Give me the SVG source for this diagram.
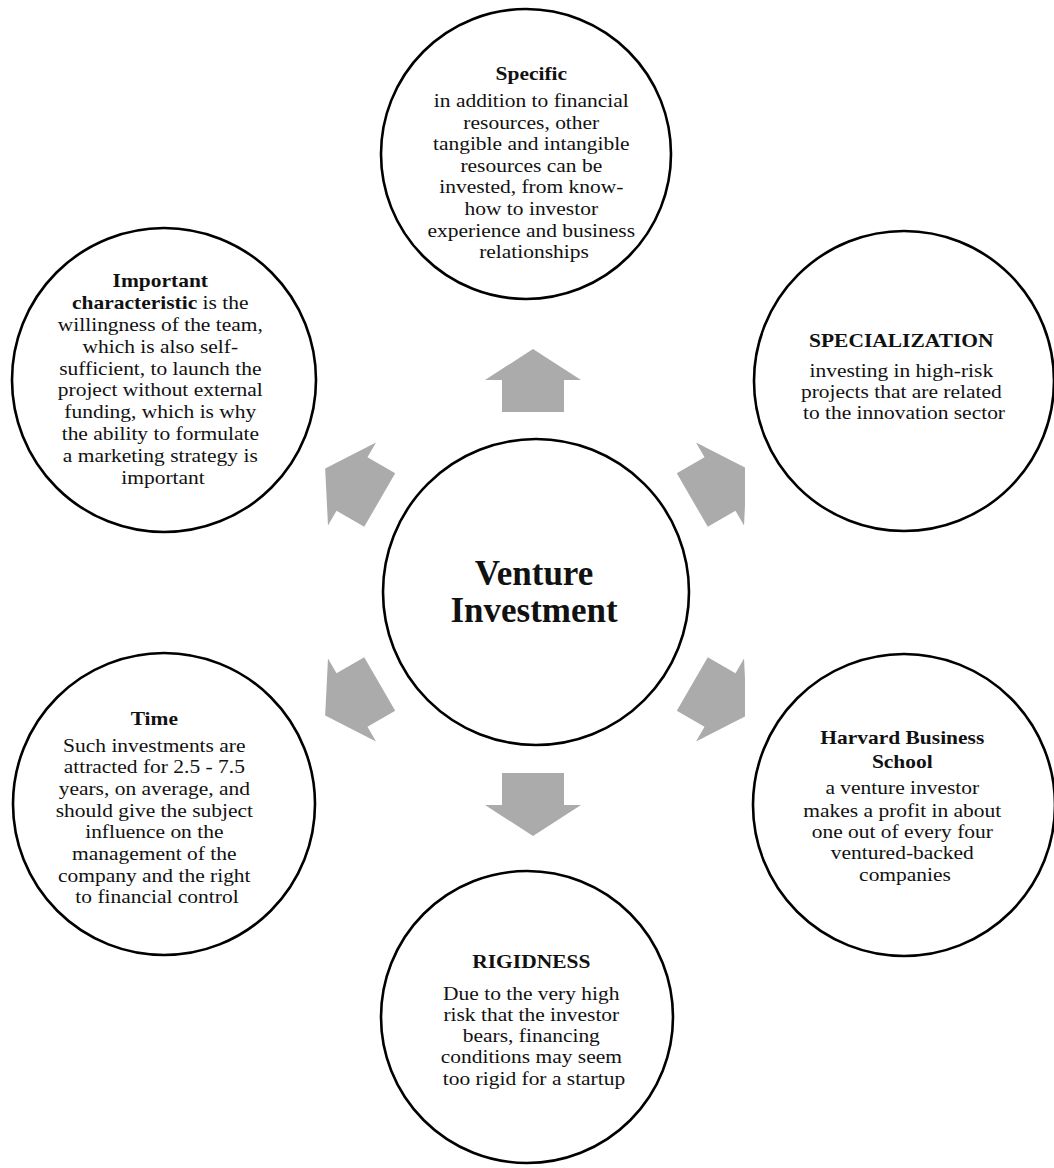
<svg xmlns="http://www.w3.org/2000/svg" width="1054" height="1168" viewBox="0 0 1054 1168">
<style>
.c{fill:#fff;stroke:#000;stroke-width:2.6}
.t{font-family:"Liberation Serif","Times New Roman",serif;font-size:19px;fill:#111;text-anchor:middle}
.b{font-weight:bold}
.big{font-family:"Liberation Serif","Times New Roman",serif;font-size:35px;font-weight:bold;fill:#111;text-anchor:middle}
.ar{fill:#ababab}
</style>
<defs>
<path id="arr" d="M0,-31 L48,0 L31,0 L31,32 L-31,32 L-31,0 L-48,0 Z"/>
<clipPath id="clipL"><rect x="324" y="0" width="800" height="1168"/></clipPath>
<clipPath id="clipR"><rect x="0" y="0" width="745" height="1168"/></clipPath>
</defs>
<rect width="1054" height="1168" fill="#fff"/>
<g id="connectors">
<use href="#arr" class="ar" transform="translate(533,380)"/>
<use href="#arr" class="ar" transform="translate(533,805) rotate(180)"/>
<g clip-path="url(#clipR)">
<use href="#arr" class="ar" transform="translate(720,484) rotate(60)"/>
<use href="#arr" class="ar" transform="translate(720,700) rotate(120)"/>
</g>
<g clip-path="url(#clipL)">
<use href="#arr" class="ar" transform="translate(352,484) rotate(-60)"/>
<use href="#arr" class="ar" transform="translate(352,700) rotate(-120)"/>
</g>
</g>
<g id="center">
<circle class="c" cx="536" cy="592" r="153"/>
<text class="big" x="534" y="585">Venture</text>
<text class="big" x="534" y="622">Investment</text>
</g>
<g id="specific">
<circle class="c" cx="526" cy="154" r="145"/>
<text class="t" transform="matrix(1.13,0,0,1,-69.42,0)">
<tspan class="b" x="534" y="80">Specific</tspan>
<tspan x="534" y="107">in addition to financial</tspan>
<tspan x="534" y="129">resources, other</tspan>
<tspan x="534" y="150">tangible and intangible</tspan>
<tspan x="534" y="172">resources can be</tspan>
<tspan x="534" y="193">invested, from know-</tspan>
<tspan x="534" y="215">how to investor</tspan>
<tspan x="534" y="237">experience and business</tspan>
<tspan x="534" y="258">relationships</tspan>
</text>
</g>
<g id="important">
<circle class="c" cx="164" cy="380" r="152"/>
<text class="t" transform="matrix(1.13,0,0,1,-21.19,0)">
<tspan class="b" x="163" y="287">Important</tspan>
<tspan x="163" y="309"><tspan class="b">characteristic</tspan> is the</tspan>
<tspan x="163" y="331">willingness of the team,</tspan>
<tspan x="163" y="353">which is also self-</tspan>
<tspan x="163" y="375">sufficient, to launch the</tspan>
<tspan x="163" y="396">project without external</tspan>
<tspan x="163" y="418">funding, which is why</tspan>
<tspan x="163" y="440">the ability to formulate</tspan>
<tspan x="163" y="462">a marketing strategy is</tspan>
<tspan x="163" y="484">important</tspan>
</text>
</g>
<g id="specialization">
<circle class="c" cx="904" cy="381" r="150"/>
<text class="t" transform="matrix(1.13,0,0,1,-117.52,0)">
<tspan class="b" x="904" y="347">SPECIALIZATION</tspan>
<tspan x="904" y="377">investing in high-risk</tspan>
<tspan x="904" y="398">projects that are related</tspan>
<tspan x="904" y="419">to the innovation sector</tspan>
</text>
</g>
<g id="time">
<circle class="c" cx="164" cy="804" r="151"/>
<text class="t" transform="matrix(1.13,0,0,1,-20.41,0)">
<tspan class="b" x="157" y="725">Time</tspan>
<tspan x="157" y="752">Such investments are</tspan>
<tspan x="157" y="773">attracted for 2.5 - 7.5</tspan>
<tspan x="157" y="795">years, on average, and</tspan>
<tspan x="157" y="817">should give the subject</tspan>
<tspan x="157" y="838">influence on the</tspan>
<tspan x="157" y="860">management of the</tspan>
<tspan x="157" y="882">company and the right</tspan>
<tspan x="157" y="903">to financial control</tspan>
</text>
</g>
<g id="harvard">
<circle class="c" cx="904" cy="805" r="151"/>
<text class="t" transform="matrix(1.13,0,0,1,-117.65,0)">
<tspan class="b" x="905" y="744">Harvard Business</tspan>
<tspan class="b" x="905" y="768">School</tspan>
<tspan x="905" y="794">a venture investor</tspan>
<tspan x="905" y="817">makes a profit in about</tspan>
<tspan x="905" y="838">one out of every four</tspan>
<tspan x="905" y="859">ventured-backed</tspan>
<tspan x="905" y="881">companies</tspan>
</text>
</g>
<g id="rigidness">
<circle class="c" cx="527" cy="1017" r="146"/>
<text class="t" transform="matrix(1.13,0,0,1,-69.42,0)">
<tspan class="b" x="534" y="968">RIGIDNESS</tspan>
<tspan x="534" y="1000">Due to the very high</tspan>
<tspan x="534" y="1021">risk that the investor</tspan>
<tspan x="534" y="1042">bears, financing</tspan>
<tspan x="534" y="1063">conditions may seem</tspan>
<tspan x="534" y="1085">too rigid for a startup</tspan>
</text>
</g>
</svg>
